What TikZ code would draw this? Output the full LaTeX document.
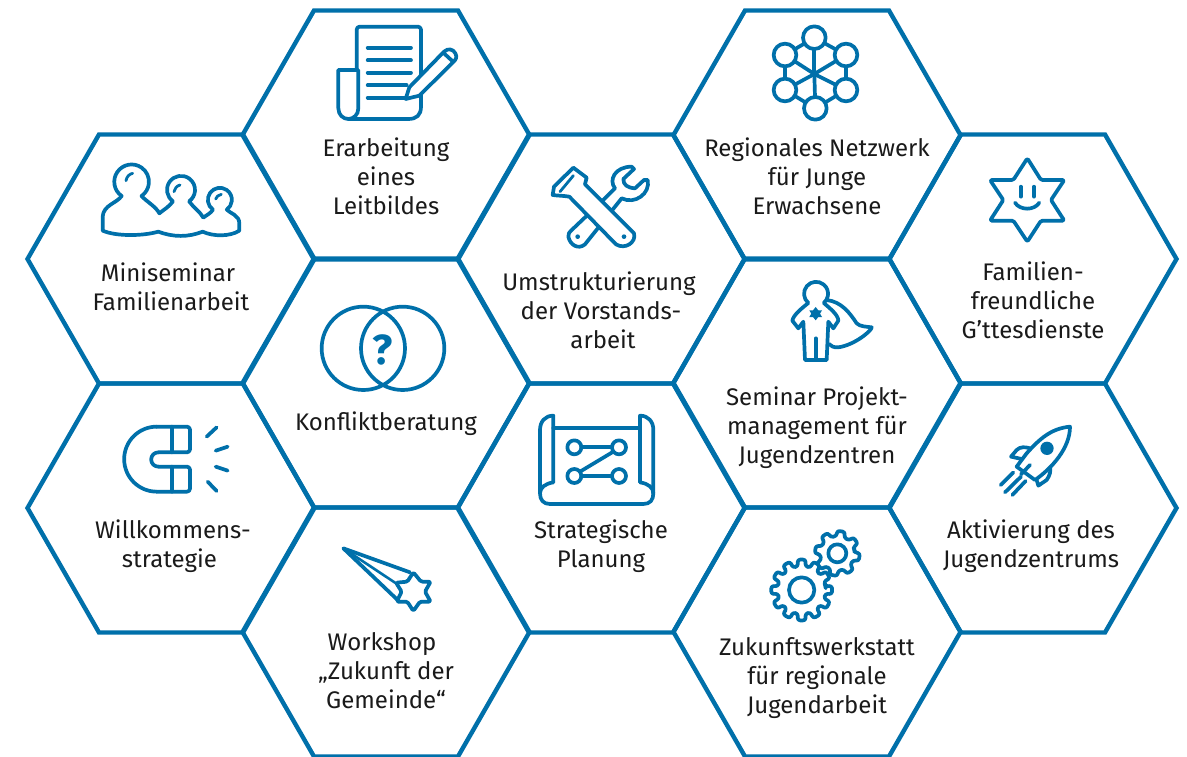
\documentclass[tikz,border=0pt]{standalone}
\usepackage{fontspec}
\setmainfont{Fira Sans}
\definecolor{hexblue}{RGB}{0,112,170}
\definecolor{inktext}{RGB}{26,26,26}
\tikzset{
  hexedge/.style={draw=hexblue,line width=4.4pt,line join=miter},
  icon/.style={draw=hexblue,line width=3.7pt,line join=round,line cap=round},
  iconfill/.style={icon,fill=white},
  label/.style={align=center,text=inktext,inner sep=0pt,font=\fontsize{24}{29}\selectfont},
  zoomed/.style={shift={#1},scale=0.33333}
}
\newcommand\hexcell[2]{\draw[hexedge] ({#1-143.5},#2) -- ({#1-72},{#2-124.5}) -- ({#1+72},{#2-124.5}) -- ({#1+143.5},#2) -- ({#1+72},{#2+124.5}) -- ({#1-72},{#2+124.5}) -- cycle;}
\begin{document}
\begin{tikzpicture}[x=1pt,y=1pt,yscale=-1]
\fill[white] (0,0) rectangle (1187,757);
\useasboundingbox (0,0) rectangle (1187,757);
\hexcell{171}{259}\hexcell{171}{508}
\hexcell{386}{135}\hexcell{386}{383}\hexcell{386}{632}
\hexcell{601}{259}\hexcell{601}{508}
\hexcell{817}{135}\hexcell{817}{383}\hexcell{817}{632}
\hexcell{1033}{259}\hexcell{1033}{508}
% labels
\node[label] (n1) at (386,176) {Erarbeitung\\eines\\Leitbildes};
\node[label] (n2) at (171,286.5) {Miniseminar\hspace*{6pt}\\Familienarbeit};
\node[label] (n3) at (601,310) {Umstrukturierung\hspace*{4pt}\\der Vorstands-\\\hspace*{4pt}arbeit};
\node[label] (n4) at (817,176) {Regionales Netzwerk\\für Junge\\Erwachsene};
\node[label] (n5) at (1033,300.5) {Familien-\\freundliche\\G’ttesdienste};
\node[label] (n6) at (386,424) {Konfliktberatung};
\node[label] (n7) at (817,427.5) {Seminar Projekt-\\management für\\Jugendzentren};
\node[label] (n8) at (601,546) {Strategische\\Planung};
\node[label] (n9) at (171,546) {\hspace*{4pt}Willkommens-\\strategie\hspace*{3pt}};
\node[label] (n10) at (1031,546) {Aktivierung des\\Jugendzentrums};
\node[label] (n11) at (386,671) {Workshop\hspace*{8pt}\\„Zukunft der\\Gemeinde“};
\node[label] (n12) at (817,678) {Zukunftswerkstatt\\für regionale\\Jugendarbeit};
% document icon
\begin{scope}[zoomed={(240,0)}]
\draw[icon,rounded corners=3pt] (350,210) -- (350,80) -- (543,80) -- (543,320);
\draw[icon] (543,320) .. controls (543,345) and (530,357) .. (505,357) -- (325,357);
\draw[icon] (350,210) -- (295,210) -- (295,325) .. controls (295,345) and (310,357) .. (325,357) .. controls (340,357) and (355,345) .. (355,325) -- (355,210);
\foreach \yy/\xe in {143/513,181/513,218/513,256/500,293/500}
  \draw[icon] (383,\yy) -- (\xe,\yy);
\draw[iconfill] (497,297) -- (508,262) -- (612,155) .. controls (625,143) and (640,148) .. (646,160) .. controls (652,172) and (648,178) .. (640,186) -- (538,287) -- cycle;
\draw[icon] (612,160) -- (638,184);
\end{scope}
% people icon
\begin{scope}[zoomed={(80,150)}]
\draw[icon] (125,138) arc[start angle=125,end angle=415,radius=52] .. controls (200,155) and (228,170) .. (238,190) .. controls (250,180) and (268,170) .. (279,154) arc[start angle=125,end angle=415,radius=42] .. controls (340,172) and (360,185) .. (370,203) .. controls (380,195) and (392,190) .. (399,179) arc[start angle=125,end angle=415,radius=36] .. controls (450,190) and (478,195) .. (478,220) -- (478,242) .. controls (450,260) and (400,260) .. (368,245) .. controls (325,262) and (280,262) .. (235,245) .. controls (190,258) and (110,260) .. (68,242) -- (68,200) .. controls (70,165) and (110,160) .. (125,138) -- cycle;
\draw[icon,line width=2.8pt] (138,92) .. controls (140,80) and (148,72) .. (158,70);
\draw[icon,line width=2.8pt] (282,125) .. controls (284,115) and (290,108) .. (300,105);
\draw[icon,line width=2.8pt] (407,147) .. controls (409,140) and (415,135) .. (424,133);
\end{scope}
% network icon
\begin{scope}[zoomed={(760,15)}]
\foreach \p in {(163,68),(75,120),(258,120),(75,225),(258,225),(166,280)}{
  \draw[icon] (163,177) -- \p;}
\draw[icon] (163,68) -- (258,120) -- (258,225) -- (166,280) -- (75,225) -- (75,120) -- cycle;
\foreach \p in {(163,68),(75,120),(258,120),(75,225),(258,225),(166,280)}{
  \draw[iconfill] \p circle[radius=34];}
\end{scope}
% tools icon
\begin{scope}[zoomed={(540,155)}]
\draw[iconfill] (190,135) -- (225,100) .. controls (205,75) and (225,35) .. (275,35) -- (282,42) -- (250,72) .. controls (250,90) and (262,98) .. (285,100) -- (312,75) -- (323,75) .. controls (332,115) and (285,150) .. (245,130) -- (135,268) .. controls (115,285) and (90,270) .. (85,245) .. controls (85,235) and (88,232) .. (92,228) -- cycle;
\fill[hexblue] (113,245) circle[radius=7];
\draw[iconfill] (100,38) -- (140,68) -- (135,88) -- (282,235) .. controls (290,262) and (255,285) .. (228,268) -- (88,125) .. controls (70,122) and (50,122) .. (38,120) -- (42,95) -- cycle;
\draw[icon,line width=2.8pt] (60,110) -- (100,62);
\fill[hexblue] (252,245) circle[radius=7];
\end{scope}
% hero icon
\begin{scope}[zoomed={(775,270)}]
\draw[icon] (155,90) .. controls (200,95) and (225,130) .. (245,160) .. controls (255,170) and (275,170) .. (290,172) .. controls (292,180) and (240,225) .. (190,232) .. controls (175,233) and (168,228) .. (162,222);
\draw[iconfill] (100,99) arc[start angle=130,end angle=410,radius=36] .. controls (165,115) and (190,135) .. (190,152) -- (175,175) -- (160,155) -- (155,270) -- (90,270) -- (85,155) -- (70,175) -- (52,152) .. controls (55,135) and (80,115) .. (100,99) -- cycle;
\draw[icon] (122,205) -- (122,268);
\fill[hexblue] (122,111) -- (130,121) -- (141,121) -- (135,131) -- (141,141) -- (130,141) -- (122,151) -- (114,141) -- (103,141) -- (109,131) -- (103,121) -- (114,121) -- cycle;
\end{scope}
% star icon
\begin{scope}[zoomed={(975,150)}]
\draw[icon,rounded corners=1.5pt] (157,25) -- (198,90) -- (268,90) -- (228,150) -- (268,212) -- (198,212) -- (157,275) -- (115,212) -- (45,212) -- (85,150) -- (45,90) -- (115,90) -- cycle;
\draw[icon] (137,110) -- (137,140);
\draw[icon] (177,110) -- (177,140);
\draw[icon] (120,158) .. controls (135,182) and (178,182) .. (193,158);
\end{scope}
% magnet icon
\begin{scope}[zoomed={(110,415)}]
\draw[icon,rounded corners=3pt] (140,35) -- (240,35) -- (240,112) -- (145,112);
\draw[icon] (145,112) arc[start angle=-90,end angle=-270,radius=21.5];
\draw[icon,rounded corners=3pt] (145,155) -- (240,155) -- (240,230) -- (140,230);
\draw[icon] (140,230) arc[start angle=90,end angle=270,radius=97.5];
\draw[icon] (185,35) -- (185,112);
\draw[icon] (185,155) -- (185,230);
\draw[icon] (290,65) -- (320,37);
\draw[icon] (317,107) -- (353,95);
\draw[icon] (317,155) -- (353,167);
\draw[icon] (293,200) -- (320,228);
\end{scope}
% map icon
\begin{scope}[zoomed={(530,405)}]
\draw[icon] (70,232) -- (70,32) .. controls (45,32) and (30,50) .. (30,75) -- (30,265) .. controls (30,285) and (40,297) .. (60,297) -- (340,297) .. controls (360,297) and (370,285) .. (370,265) -- (370,75) .. controls (370,50) and (355,32) .. (330,32) -- (330,232);
\draw[icon] (70,232) .. controls (45,236) and (30,248) .. (30,265);
\draw[icon] (330,232) .. controls (355,236) and (370,248) .. (370,265);
\draw[icon] (70,70) -- (330,70);
\foreach \p in {(133,127),(267,127),(133,213),(267,213)}{\draw[icon] \p circle[radius=21];}
\draw[icon] (154,127) -- (246,127);
\draw[icon] (154,213) -- (246,213);
\draw[icon] (150,200) -- (250,140);
\end{scope}
% rocket icon
\begin{scope}[zoomed={(985,415)}]
\draw[icon] (135,100) .. controls (120,95) and (105,95) .. (95,105) -- (78,125) -- (110,132);
\draw[icon] (195,150) .. controls (198,170) and (195,180) .. (185,195) -- (160,212) -- (152,185);
\draw[iconfill] (255,35) .. controls (200,40) and (165,70) .. (125,115) -- (95,155) -- (150,195) .. controls (200,160) and (255,100) .. (255,35) -- cycle;
\fill[hexblue] (186,100) circle[radius=20];
\draw[icon] (135,150) -- (108,178);
\draw[icon] (85,172) -- (47,210);
\draw[icon] (108,185) -- (60,232);
\draw[icon] (122,198) -- (82,240);
\end{scope}
% shooting star icon
\begin{scope}[zoomed={(330,535)}]
\draw[icon] (240,112) -- (40,40) -- (205,197);
\draw[icon,line width=2.6pt] (40,40) -- (198,145);
\draw[icon,rounded corners=1.5pt] (250,112) -- (273,140) -- (302,140) -- (285,170) -- (302,200) -- (270,200) -- (250,228) -- (232,200) -- (200,200) -- (215,170) -- (198,143) -- (232,140) -- cycle;
\end{scope}
% gears icon
\begin{scope}[zoomed={(760,520)}]
\begin{scope}[shift={(125,210)}]
\draw[iconfill,rounded corners=2.5pt] (-10:72) \foreach \a in {0,30,...,330}{ -- (\a-9:72) -- (\a-7.5:92) -- (\a+7.5:92) -- (\a+9:72)} -- cycle;
\draw[icon] (0,0) circle[radius=38];
\end{scope}
\begin{scope}[shift={(232,100)}]
\draw[iconfill,rounded corners=2.5pt] (-12:52) \foreach \a in {10,55,...,325}{ -- (\a-13:52) -- (\a-10:68) -- (\a+10:68) -- (\a+13:52)} -- cycle;
\draw[icon] (0,0) circle[radius=27];
\end{scope}
\end{scope}
% venn icon
\begin{scope}[zoomed={(310,295)}]
\draw[icon] (160,160) circle[radius=125];
\draw[icon] (278,160) circle[radius=125];
\end{scope}
\node[text=hexblue,inner sep=0pt,font=\fontsize{42}{42}\selectfont\bfseries] (q) at (383,350) {?};
\end{tikzpicture}
\end{document}
